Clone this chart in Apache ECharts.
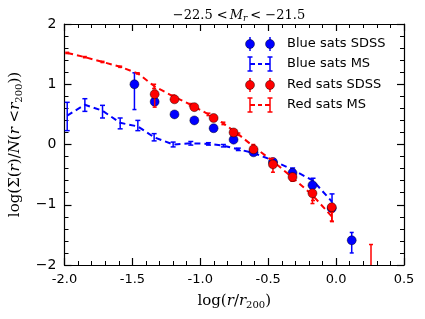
<!DOCTYPE html>
<html><head><meta charset="utf-8">
<script src="https://cdn.jsdelivr.net/npm/echarts@6/dist/echarts.min.js"></script>
<style>html,body{margin:0;padding:0;background:#fff}#c{width:425px;height:319px}</style>
</head><body><div id="c"></div>
<script>
// ---- data ----
const blueSdssX  = [-1.485, -1.336, -1.19, -1.044, -0.902, -0.755, -0.608, -0.465, -0.321, -0.174, -0.032, 0.115];
const blueSdssY  = [1.00, 0.71, 0.50, 0.40, 0.27, 0.08, -0.13, -0.29, -0.47, -0.675, -1.06, -1.59];
const blueSdssLo = [0.58, 0.68, 0.47, 0.37, 0.24, 0.05, -0.16, -0.32, -0.50, -0.71, -1.10, -1.80];
const blueSdssHi = [1.19, 0.74, 0.53, 0.43, 0.30, 0.11, -0.10, -0.26, -0.44, -0.64, -1.02, -1.46];

const redSdssX  = [-1.336, -1.19, -1.044, -0.902, -0.755, -0.608, -0.465, -0.321, -0.174, -0.032, 0.257];
const redSdssY  = [0.835, 0.75, 0.62, 0.44, 0.20, -0.08, -0.33, -0.54, -0.81, -1.04, -2.30];
const redSdssLo = [0.62, 0.71, 0.58, 0.40, 0.16, -0.12, -0.46, -0.61, -0.98, -1.27, -2.50];
const redSdssHi = [0.90, 0.79, 0.66, 0.48, 0.24, -0.04, -0.28, -0.50, -0.76, -0.99, -1.66];

const msX      = [-1.98, -1.85, -1.72, -1.59, -1.46, -1.34, -1.20, -1.07, -0.94, -0.83, -0.72, -0.61, -0.47, -0.32, -0.17, -0.03];
const blueMsY  = [0.48, 0.66, 0.56, 0.36, 0.30, 0.12, 0.00, 0.02, 0.01, -0.02, -0.08, -0.14, -0.26, -0.42, -0.60, -0.95];
const blueMsLo = [0.23, 0.55, 0.44, 0.26, 0.23, 0.06, -0.04, -0.01, -0.01, -0.04, -0.10, -0.16, -0.28, -0.45, -0.64, -1.10];
const blueMsHi = [0.70, 0.76, 0.65, 0.44, 0.40, 0.18, 0.04, 0.05, 0.03, 0.00, -0.06, -0.12, -0.24, -0.39, -0.56, -0.82];
const redMsY   = [1.52, 1.45, 1.37, 1.29, 1.18, 0.97, 0.80, 0.66, 0.50, 0.35, 0.17, -0.03, -0.27, -0.55, -0.85, -1.20];
const redMsLo  = [1.51, 1.44, 1.36, 1.28, 1.17, 0.93, 0.78, 0.64, 0.48, 0.33, 0.15, -0.06, -0.31, -0.61, -0.93, -1.28];
const redMsHi  = [1.53, 1.46, 1.38, 1.30, 1.19, 1.00, 0.82, 0.68, 0.52, 0.37, 0.19, 0.00, -0.23, -0.50, -0.79, -1.12];

const xTicks = ['-2.0', '-1.5', '-1.0', '-0.5', '0.0', '0.5'];
const yTicks = ['\u22122', '\u22121', '0', '1', '2'];
const legendLabels = ['Blue sats SDSS', 'Blue sats MS', 'Red sats SDSS', 'Red sats MS'];

const BLUE = '#0000ff', RED = '#ff0000';

function errSeries(xs, lo, hi, color, cap, z) {
  return {
    type: 'custom', z: z, silent: true, clip: true,
    data: xs.map((x, i) => [x, lo[i], hi[i]]),
    renderItem: function (params, api) {
      const a = api.coord([api.value(0), api.value(1)]);
      const b = api.coord([api.value(0), api.value(2)]);
      const st = { stroke: color, lineWidth: 1.5 };
      const ch = [{ type: 'line', shape: { x1: a[0], y1: a[1], x2: b[0], y2: b[1] }, style: st }];
      if (cap > 0) {
        ch.push({ type: 'line', shape: { x1: a[0] - cap, y1: a[1], x2: a[0] + cap, y2: a[1] }, style: st });
        ch.push({ type: 'line', shape: { x1: b[0] - cap, y1: b[1], x2: b[0] + cap, y2: b[1] }, style: st });
      }
      return { type: 'group', children: ch };
    }
  };
}
function pts(xs, ys) { return xs.map((x, i) => [x, ys[i]]); }

const chart = echarts.init(document.getElementById('c'), null, { renderer: 'canvas' });

const axisCommon = {
  axisLine: { onZero: false, lineStyle: { color: '#000', width: 1.2 } },
  axisTick: { inside: true, length: 7, lineStyle: { color: '#000', width: 1.2 } },
  minorTick: { show: true, splitNumber: 5, length: 4, lineStyle: { color: '#000', width: 1 } },
  splitLine: { show: false }
};

// legend graphic
const legendG = [];
const rowsY = [44, 64, 85, 105];
const legendColors = [BLUE, BLUE, RED, RED];
legendLabels.forEach((t, i) => {
  const y = rowsY[i], c = legendColors[i];
  const sdss = (i % 2 === 0);
  [250, 270].forEach((x) => {
    legendG.push({ type: 'line', shape: { x1: x, y1: y - 7, x2: x, y2: y + 7 }, style: { stroke: c, lineWidth: 1.5 } });
    if (sdss) {
      legendG.push({ type: 'circle', shape: { cx: x, cy: y, r: 4.5 }, style: { fill: c, stroke: 'rgba(0,0,0,0.55)', lineWidth: 0.8 } });
    } else {
      legendG.push({ type: 'line', shape: { x1: x - 2.5, y1: y - 7, x2: x + 2.5, y2: y - 7 }, style: { stroke: c, lineWidth: 1.5 } });
      legendG.push({ type: 'line', shape: { x1: x - 2.5, y1: y + 7, x2: x + 2.5, y2: y + 7 }, style: { stroke: c, lineWidth: 1.5 } });
    }
  });
  if (!sdss) {
    legendG.push({ type: 'line', shape: { x1: 250, y1: y, x2: 255, y2: y }, style: { stroke: c, lineWidth: 2 } });
    legendG.push({ type: 'line', shape: { x1: 258, y1: y, x2: 262, y2: y }, style: { stroke: c, lineWidth: 2 } });
    legendG.push({ type: 'line', shape: { x1: 265, y1: y, x2: 270, y2: y }, style: { stroke: c, lineWidth: 2 } });
  }
  legendG.push({ type: 'text', x: 287, y: y, style: { text: t, font: '13px "DejaVu Sans"', fill: '#000', verticalAlign: 'middle', align: 'left' } });
});

const option = {
  animation: false,
  backgroundColor: '#fff',
  title: {
    text: '{n|\u221222.5 <}{m|M}{s|r}{n|< \u221221.5}',
    left: 234, top: 3, textAlign: 'center',
    textStyle: {
      fontWeight: 'normal',
      rich: {
        n: { fontFamily: 'DejaVu Serif', fontWeight: 'normal', fontSize: 13, color: '#000' },
        m: { fontFamily: 'DejaVu Serif', fontWeight: 'normal', fontStyle: 'italic', fontSize: 13, color: '#000', padding: [0, 0, 0, 2] },
        s: { fontFamily: 'DejaVu Serif', fontWeight: 'normal', fontStyle: 'italic', fontSize: 9, color: '#000', verticalAlign: 'bottom', padding: [6, 3, 0, 0] }
      }
    }
  },
  grid: { left: 64, right: 21, top: 24, bottom: 54, containLabel: false },
  xAxis: [
    Object.assign({
      type: 'value', min: -2, max: 0.5, interval: 0.5, position: 'bottom',
      axisLabel: { color: '#000', fontFamily: 'DejaVu Sans', fontSize: 13, margin: 8,
        formatter: (v) => xTicks[Math.round((v + 2) / 0.5)] },
      name: '{a|log(}{i|r}{a|/}{i|r}{s|200}{a|)}', nameLocation: 'middle', nameGap: 27,
      nameTextStyle: { rich: {
        a: { fontFamily: 'DejaVu Serif', fontSize: 15, color: '#000' },
        i: { fontFamily: 'DejaVu Serif', fontStyle: 'italic', fontSize: 15, color: '#000' },
        s: { fontFamily: 'DejaVu Serif', fontSize: 10, color: '#000', verticalAlign: 'bottom', padding: [8, 0, 0, 0] } } }
    }, axisCommon),
    Object.assign({
      type: 'value', min: -2, max: 0.5, interval: 0.5, position: 'top', axisLabel: { show: false }
    }, axisCommon)
  ],
  yAxis: [
    Object.assign({
      type: 'value', min: -2, max: 2, interval: 1, position: 'left',
      axisLabel: { color: '#000', fontFamily: 'DejaVu Sans', fontSize: 14, margin: 8,
        formatter: (v) => yTicks[Math.round(v + 2)] },
      name: '{a|log(Σ(}{i|r}{a|)/}{i|N}{a|(}{i|r}{a| <}{i|r}{s|200}{a|))}', nameLocation: 'middle', nameGap: 40, nameRotate: 90,
      nameTextStyle: { rich: {
        a: { fontFamily: 'DejaVu Serif', fontSize: 15, color: '#000' },
        i: { fontFamily: 'DejaVu Serif', fontStyle: 'italic', fontSize: 15, color: '#000' },
        s: { fontFamily: 'DejaVu Serif', fontSize: 10, color: '#000', verticalAlign: 'bottom', padding: [8, 0, 0, 0] } } }
    }, axisCommon),
    Object.assign({
      type: 'value', min: -2, max: 2, interval: 1, position: 'right', axisLabel: { show: false }
    }, axisCommon)
  ],
  series: [
    errSeries(blueSdssX, blueSdssLo, blueSdssHi, BLUE, 2, 2),
    { type: 'scatter', data: pts(blueSdssX, blueSdssY), symbol: 'circle', symbolSize: 9, z: 3,
      itemStyle: { color: BLUE, borderColor: 'rgba(0,0,0,0.55)', borderWidth: 0.8, opacity: 1 } },
    errSeries(msX, blueMsLo, blueMsHi, BLUE, 2.5, 2),
    { type: 'line', data: pts(msX, blueMsY), symbol: 'none', z: 2, clip: true,
      lineStyle: { color: BLUE, width: 2, type: [6, 4] } },
    errSeries(redSdssX, redSdssLo, redSdssHi, RED, 2, 4),
    { type: 'scatter', data: pts(redSdssX, redSdssY), symbol: 'circle', symbolSize: 9, z: 5,
      itemStyle: { color: RED, borderColor: 'rgba(0,0,0,0.55)', borderWidth: 0.8, opacity: 1 } },
    errSeries(msX, redMsLo, redMsHi, RED, 2, 4),
    { type: 'line', data: pts(msX, redMsY), symbol: 'none', z: 4, clip: true,
      lineStyle: { color: RED, width: 2, type: [6, 4] } }
  ],
  graphic: legendG
};
chart.setOption(option);
</script>
</body></html>
